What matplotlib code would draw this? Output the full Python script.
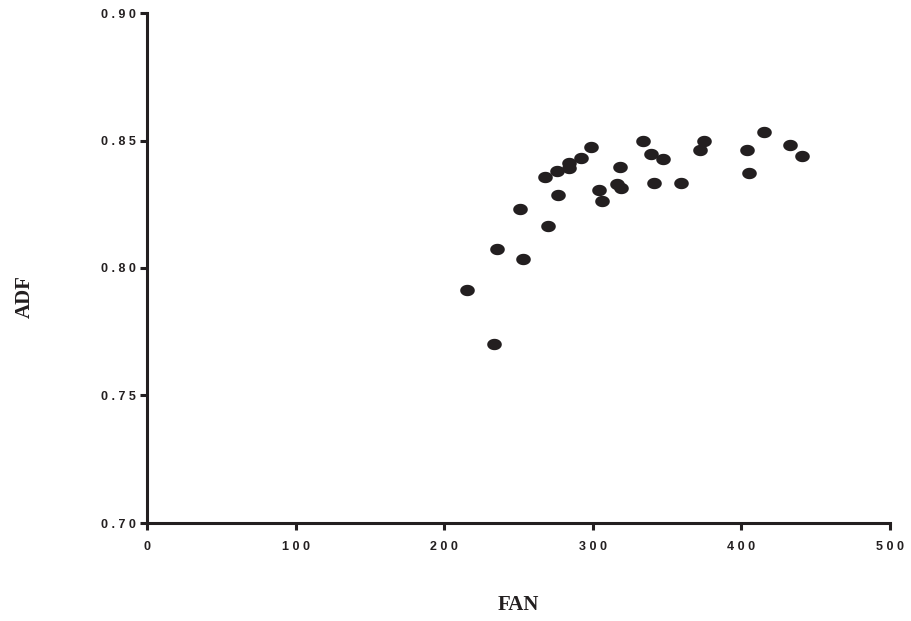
import numpy as np
import matplotlib
matplotlib.use("Agg")
import matplotlib.pyplot as plt
from matplotlib.path import Path

fan = [215.5, 233.5, 235.5, 251.0, 253.0, 270.0, 268.0, 276.0, 276.5, 284.0,
       284.0, 292.0, 298.5, 304.5, 306.5, 316.5, 318.5, 319.0, 334.0, 339.0,
       347.0, 341.5, 359.5, 372.0, 375.0, 403.5, 405.0, 415.0, 433.0, 441.0]
adf = [0.7915, 0.7700, 0.8075, 0.8231, 0.8035, 0.8165, 0.8357, 0.8380, 0.8286, 0.8412,
       0.8392, 0.8430, 0.8474, 0.8306, 0.8263, 0.8330, 0.8396, 0.8314, 0.8498, 0.8448,
       0.8427, 0.8333, 0.8332, 0.8464, 0.8500, 0.8464, 0.8372, 0.8533, 0.8481, 0.8439]

xticks = [0, 100, 200, 300, 400, 500]
yticks = [0.70, 0.75, 0.80, 0.85, 0.90]

ink = "#231f20"

def spaced(s):
    return " ".join(s)

t = np.linspace(0, 2*np.pi, 60)
ell = Path(np.column_stack([np.cos(t), 0.78*np.sin(t)]), closed=True)

fig = plt.figure(figsize=(9.12, 6.21), dpi=100)
ax = fig.add_axes([147/912, (621-523)/621, (890-147)/912, (523-13)/621])
ax.plot(fan, adf, linestyle="none", marker=ell, markersize=10.5,
        color=ink, markeredgewidth=0, clip_on=False)

ax.set_xlim(0, 500)
ax.set_ylim(0.70, 0.90)
ax.set_xticks(xticks)
ax.set_yticks(yticks)
ax.set_xticklabels([spaced(str(v)) for v in xticks])
ax.set_yticklabels([spaced(f"{v:.2f}") for v in yticks])
for lab in ax.get_xticklabels() + ax.get_yticklabels():
    lab.set_fontfamily("Liberation Sans")
    lab.set_fontweight("bold")
    lab.set_fontsize(9)
    lab.set_color(ink)

for s in ["top", "right"]:
    ax.spines[s].set_visible(False)
for s in ["left", "bottom"]:
    ax.spines[s].set_linewidth(2.2)
    ax.spines[s].set_color(ink)
ax.tick_params(axis="both", direction="out", length=5, width=2.2, color=ink)
ax.tick_params(axis="x", pad=8)
ax.tick_params(axis="y", pad=3)

fig.text(518/912, 1 - 605/621, "FAN", ha="center", va="center",
         fontfamily="Liberation Serif", fontweight="bold", fontsize=15, color=ink)
fig.text(25/912, 1 - 297/621, "ADF", ha="center", va="center", rotation=90,
         fontfamily="Liberation Serif", fontweight="bold", fontsize=15, color=ink)

fig.savefig("out.png", dpi=100)
